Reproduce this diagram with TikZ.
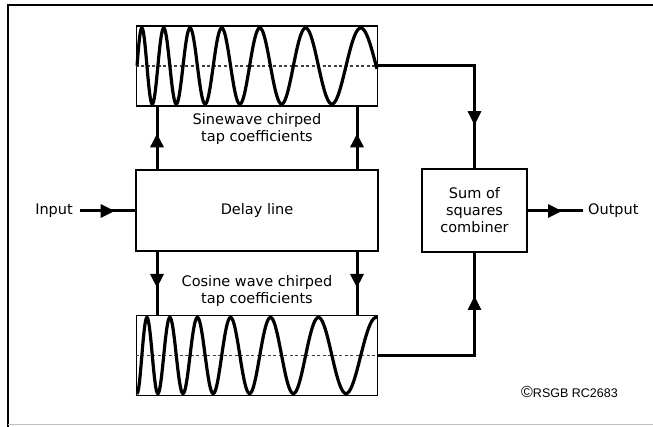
\documentclass[tikz,border=0pt]{standalone}
\usepackage{fontspec}
\setmainfont{DejaVu Sans}
\newfontfamily\credfont{Liberation Sans}
\usetikzlibrary{arrows.meta,decorations.markings}
\tikzset{
  box/.style={draw, line width=1.7pt, inner sep=0pt},
  lbl/.style={font=\fontsize{14.5}{17}\selectfont, inner sep=0pt, align=center},
  conn/.style={line width=3pt},
  arrowat/.style={postaction={decorate, decoration={markings,
      mark=at position #1 with {\arrow{Triangle[length=14pt,width=13pt]}}}}},
  wave/.style={line width=3.2pt},
  midline/.style={line width=1.4pt, dash pattern=on 3pt off 2.5pt, black!75},
}
\begin{document}
\begin{tikzpicture}[x=1pt,y=-1pt]
\useasboundingbox (0,0) rectangle (653,427);
% frame
\draw[line width=1.6pt] (8,427) -- (8,5) -- (653,5);
\draw[line width=1pt, black!25] (8,424.5) -- (653,424.5);

% boxes
\node[box, minimum width=241pt, minimum height=80pt] (sinebox) at (257,66) {};
\node[box, minimum width=241pt, minimum height=80pt] (cosbox) at (257,355.5) {};
\node[box, lbl, minimum width=242pt, minimum height=81pt] (delay) at (257,210.5) {Delay line};
\node[box, lbl, minimum width=105pt, minimum height=83pt] (comb) at (474.5,210.5) {Sum of\\squares\\combiner};

% midlines and waves
\draw[midline] (sinebox.west) -- (sinebox.east);
\draw[midline] (cosbox.west) -- (cosbox.east);
\begin{scope}
\clip (sinebox.south west) rectangle (sinebox.north east);
\draw[wave] plot[domain=0:240, samples=500, smooth] ({137+\x}, {66 - 38*sin(1945.8*ln(1+0.009737*\x))});
\end{scope}
\begin{scope}
\clip (cosbox.south west) rectangle (cosbox.north east);
\draw[wave] plot[domain=0:240, samples=500, smooth] ({137+\x}, {355.5 + 38*cos(1945.8*ln(1+0.009737*\x))});
\end{scope}

% labels
\node[lbl] (sinelbl) at (257,129.5) {Sinewave chirped\\tap coefficients};
\node[lbl] (coslbl) at (257,291.5) {Cosine wave chirped\\tap coefficients};
\node[lbl, anchor=east] (input) at (73,211) {Input};
\node[lbl, anchor=west] (output) at (588,211) {Output};
\node[font=\credfont\fontsize{12.5}{14}\selectfont, inner sep=0pt, anchor=west] (cred) at (521,392) {{\fontsize{16}{16}\selectfont\raisebox{-0.5pt}{\textcopyright}}RSGB RC2683};

% connectors delay -> tap boxes
\coordinate (dtl) at (157,170); \coordinate (dtr) at (357,170);
\coordinate (dbl) at (157,251); \coordinate (dbr) at (357,251);
\draw[conn, arrowat=0.58] (dtl) -- (dtl |- sinebox.south);
\draw[conn, arrowat=0.58] (dtr) -- (dtr |- sinebox.south);
\draw[conn, arrowat=0.58] (dbl) -- (dbl |- cosbox.north);
\draw[conn, arrowat=0.58] (dbr) -- (dbr |- cosbox.north);

% to combiner
\coordinate (ctop) at (comb.north |- sinebox.east);
\coordinate (cbot) at (comb.south |- cosbox.east);
\draw[conn] (sinebox.east) -- (ctop) -- (comb.north);
\draw[conn] (cosbox.east) -- (cbot) -- (comb.south);
\draw[conn, arrowat=0.58] (ctop) -- (comb.north);
\draw[conn, arrowat=0.58] (cbot) -- (comb.south);

% input / output
\coordinate (inend) at (80,211);
\coordinate (outend) at (583,211);
\draw[conn, arrowat=0.63] (inend) -- (delay.west |- inend);
\draw[conn, arrowat=0.62] (comb.east |- outend) -- (outend);
\end{tikzpicture}
\end{document}
